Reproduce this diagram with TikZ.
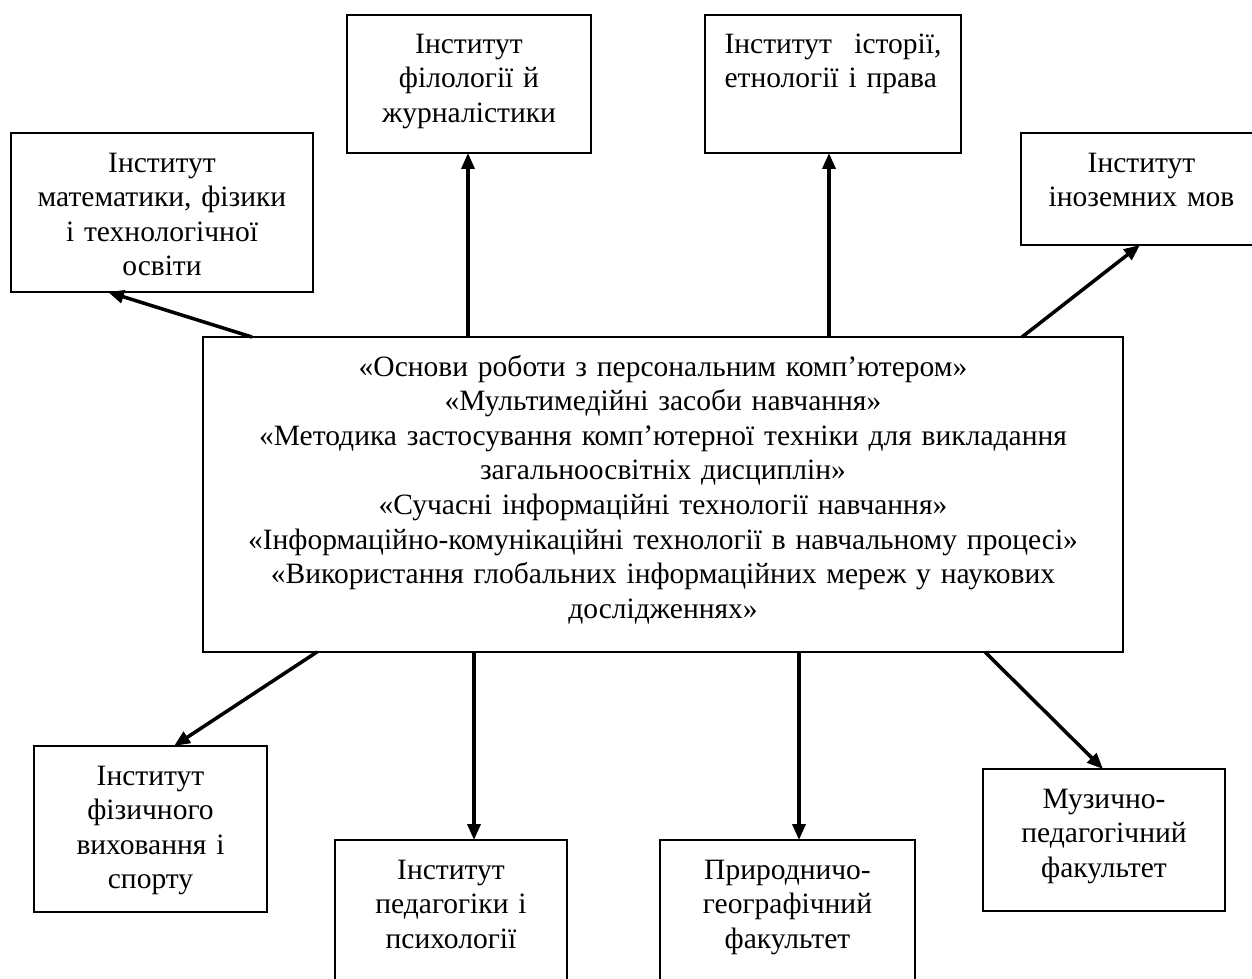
\documentclass[tikz,border=0pt]{standalone}
\usepackage{fontspec}
\setmainfont{Liberation Serif}
\usetikzlibrary{arrows.meta,calc}

\begin{document}
\begin{tikzpicture}[x=0.02cm,y=-0.02cm,
        box/.style={draw, line width=0.9pt, inner sep=0pt, outer sep=0pt},
        txt/.style={anchor=base, align=center, inner sep=0pt, font=\fontsize{16.8}{19.7}\selectfont},
        arr/.style={line width=2pt, -{Triangle[length=0.32cm,width=0.26cm]}}]
        \useasboundingbox (0,0) rectangle (1252,979);

        % boxes
        \node[box, minimum width=18.4cm, minimum height=6.3cm] (main) at (663,494.5) {};
        \node[box, minimum width=6.04cm, minimum height=3.18cm] (math) at (162,212.5) {};
        \node[box, minimum width=4.88cm, minimum height=2.76cm] (phil) at (469,84) {};
        \node[box, minimum width=5.12cm, minimum height=2.76cm] (hist) at (833,84) {};
        \node[box, minimum width=4.82cm, minimum height=2.24cm] (lang) at (1141.5,189) {};
        \node[box, minimum width=4.66cm, minimum height=3.32cm] (sport) at (150.5,829) {};
        \node[box, minimum width=4.64cm, minimum height=3.2cm] (ped) at (451,920) {};
        \node[box, minimum width=5.1cm, minimum height=3.2cm] (nat) at (787.5,920) {};
        \node[box, minimum width=4.84cm, minimum height=2.84cm] (music) at (1104,840) {};

        % texts
        \node[txt, text width=18cm] (mainT) at ($(main.north)+(0,39)$) {«Основи роботи з персональним комп’ютером»\\
            «Мультимедійні засоби навчання»\\
            «Методика застосування комп’ютерної техніки для викладання\\
            загальноосвітніх дисциплін»\\
            «Сучасні інформаційні технології навчання»\\
            «Інформаційно-комунікаційні технології в навчальному процесі»\\
            «Використання глобальних інформаційних мереж у наукових\\
            дослідженнях»};
        \node[txt, text width=5.6cm] (mathT) at ($(math.north)+(0,39)$) {Інститут\\ математики, фізики\\ і технологічної\\ освіти};
        \node[txt, text width=4.5cm] (philT) at ($(phil.north)+(0,38)$) {Інститут\\ філології й\\ журналістики};
        \node[txt, text width=4.34cm, align=left] (histT) at ($(hist.north)+(0,38)$) {Інститут\hfill історії,\\ етнології і права};
        \node[txt, text width=4.5cm] (langT) at ($(lang.north)+(0,39)$) {Інститут\\ іноземних мов};
        \node[txt, text width=4.4cm] (sportT) at ($(sport.north)+(0,39)$) {Інститут\\ фізичного\\ виховання і\\ спорту};
        \node[txt, text width=4.4cm] (pedT) at ($(ped.north)+(0,39)$) {Інститут\\ педагогіки і\\ психології};
        \node[txt, text width=4.8cm] (natT) at ($(nat.north)+(0,39)$) {Природничо-\\ географічний\\ факультет};
        \node[txt, text width=4.6cm] (musicT) at ($(music.north)+(0,39)$) {Музично-\\ педагогічний\\ факультет};

        % arrows
        \draw[arr] (main.north -| 252,0) -- (math.south -| 108,0);
        \draw[arr] (main.north -| 468,0) -- (phil.south -| 468,0);
        \draw[arr] (main.north -| 829,0) -- (hist.south -| 829,0);
        \draw[arr] (main.north -| 1022,0) -- (lang.south -| 1140,0);
        \draw[arr] (main.south -| 317,0) -- (sport.north -| 174,0);
        \draw[arr] (main.south -| 474,0) -- (ped.north -| 474,0);
        \draw[arr] (main.south -| 799,0) -- (nat.north -| 799,0);
        \draw[arr] (main.south -| 985,0) -- (music.north -| 1103,0);
\end{tikzpicture}
\end{document}
